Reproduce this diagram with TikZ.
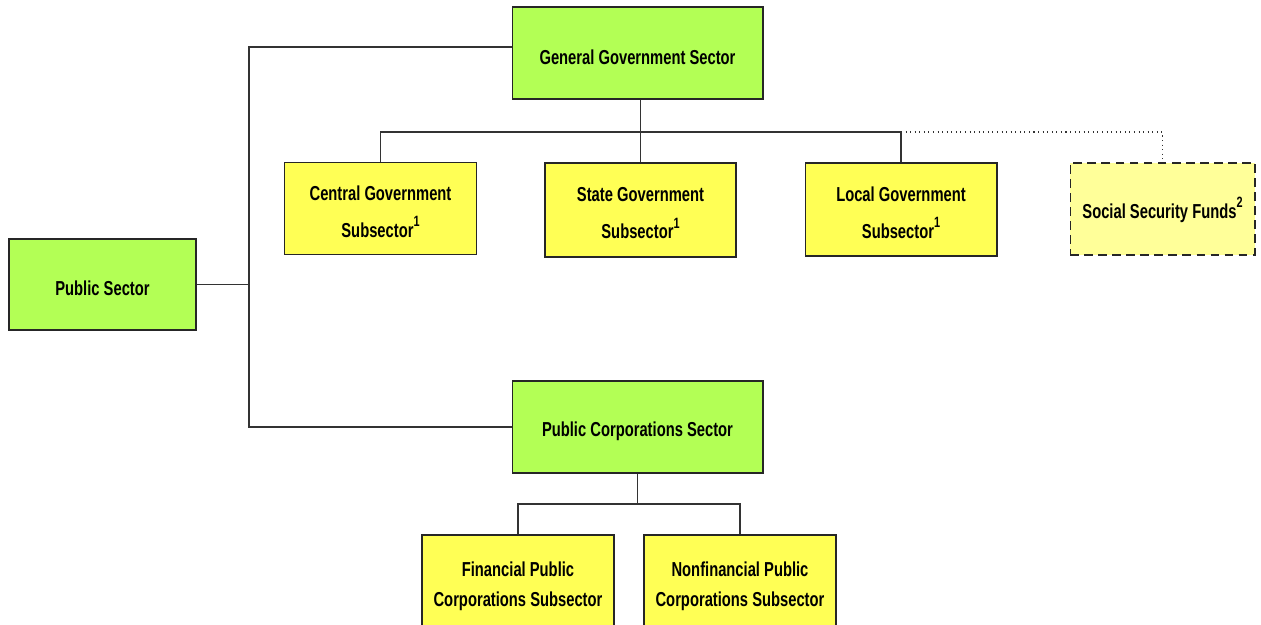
\documentclass[tikz,border=0pt]{standalone}
\usepackage{fontspec}
\setmainfont{Liberation Sans}[FakeStretch=0.73]
\usetikzlibrary{positioning}

\definecolor{secgreen}{RGB}{179,255,85}
\definecolor{subyellow}{RGB}{255,255,85}
\definecolor{fundyellow}{RGB}{255,255,153}

\newcommand{\fnote}[1]{\raisebox{6pt}{\fontsize{8.5}{8.5}\selectfont #1}}
\newcommand{\lowstrut}{\rule{0pt}{12pt}}

\tikzset{
  box/.style={draw=black!85, line width=0.6pt, align=center, inner sep=0pt,
    font=\bfseries\fontsize{11.5}{21}\selectfont,
    execute at begin node=\rule{0pt}{13pt}},
  sector/.style={box, fill=secgreen, minimum width=5.02cm, minimum height=1.84cm},
  subsector/.style={box, fill=subyellow, minimum width=3.84cm, minimum height=1.84cm},
  fund/.style={box, fill=fundyellow, dashed, dash pattern=on 5pt off 3pt,
    minimum width=3.7cm, minimum height=1.84cm},
  link/.style={draw=black!80, line width=0.6pt}
}

\begin{document}
\begin{tikzpicture}[x=0.02cm, y=-0.02cm]
    \useasboundingbox (0,0) rectangle (1261,625);
    % sektoren
    \node[sector] (gg) at (637.5,53) {General Government Sector};
    \node[sector, minimum width=3.74cm, minimum height=1.82cm] (ps) at (102.5,284.5) {Public Sector};
    \node[sector] (pc) at (637.5,427) {Public Corporations Sector};
    % teilsektoren staat
    \node[subsector] (cg) at (380.5,208.5) {\lowstrut Central Government\\Subsector\fnote{1}};
    \node[subsector, minimum width=3.82cm, minimum height=1.88cm] (sg) at (640.5,210) {\lowstrut State Government\\Subsector\fnote{1}};
    \node[subsector, minimum height=1.86cm] (lg) at (901,209.5) {\lowstrut Local Government\\Subsector\fnote{1}};
    \node[fund] (ssf) at (1162.5,209) {Social Security Funds\fnote{2}};
    % teilsektoren unternehmen
    \node[subsector] (fpc) at (518,581) {\rule{0pt}{14pt}Financial Public\\[-4pt]Corporations Subsector};
    \node[subsector] (npc) at (740,581) {\rule{0pt}{14pt}Nonfinancial Public\\[-4pt]Corporations Subsector};
    % verbindungen
    \coordinate (trunk) at (249,284.5);
    \coordinate (bar) at (0,132);
    \coordinate (bar2) at (0,504);
    \draw[link] (ps.east) -- (trunk);
    \draw[link] ([yshift=0.12cm]gg.west) -| (trunk) |- (pc.west);
    \draw[link] (gg.south -| sg.north) -- (sg.north);
    \draw[link] (cg.north) |- (bar -| lg.north) -- (lg.north);
    \draw[link, dotted] (bar -| lg.north) -| (ssf.north);
    \draw[link] (pc.south) -- (pc.south |- bar2);
    \draw[link] (fpc.north) |- (bar2 -| npc.north) -- (npc.north);
\end{tikzpicture}
\end{document}
